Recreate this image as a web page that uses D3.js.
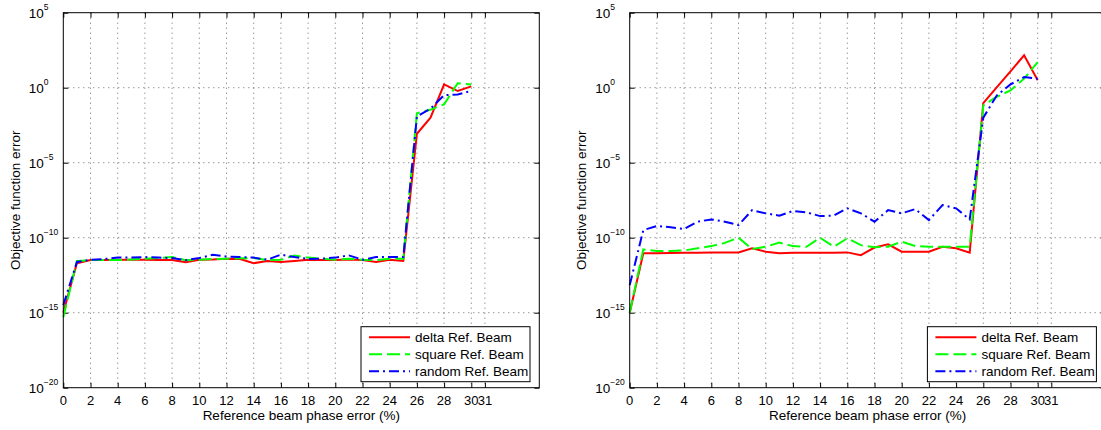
<!DOCTYPE html>
<html>
<head>
<meta charset="utf-8">
<script src="https://cdn.jsdelivr.net/npm/d3@7"></script>
<style>
  body { margin: 0; background: #fff; }
  text { font-family: "Liberation Sans", Arial, Helvetica, sans-serif; fill: #000; }
</style>
</head>
<body>
<div id="chart-area"></div>
<script>
// phase error (%) values on the x axis
var phaseErr = d3.range(0, 31)

var xTicks = [0, 2, 4, 6, 8, 10, 12, 14, 16, 18, 20, 22, 24, 26, 28, 30, 31]
var yTicks = [1e5, 1e0, 1e-5, 1e-10, 1e-15, 1e-20]
var yExp = ["5", "0", "\u22125", "\u221210", "\u221215", "\u221220"]

var seriesNames = ["delta Ref. Beam", "square Ref. Beam", "random Ref. Beam"]

// left plot
var leftDelta = [1.0e-15, 2.0e-12, 3.2e-12, 3.2e-12, 3.4e-12, 3.4e-12, 3.4e-12, 3.2e-12, 3.2e-12, 2.3e-12,
  3.4e-12, 3.5e-12, 4.0e-12, 3.8e-12, 2.0e-12, 2.8e-12, 2.4e-12, 2.8e-12, 3.4e-12, 3.2e-12,
  3.2e-12, 3.5e-12, 3.2e-12, 2.4e-12, 3.4e-12, 2.8e-12, 8.5e-4, 1.0e-2, 1.66, 0.6, 1.23]
var leftSquare = [5.0e-16, 2.8e-12, 3.2e-12, 3.2e-12, 3.2e-12, 3.5e-12, 4.0e-12, 4.5e-12, 5.1e-12, 3.2e-12,
  3.4e-12, 3.8e-12, 4.0e-12, 4.2e-12, 4.4e-12, 3.2e-12, 3.4e-12, 6.6e-12, 4.7e-12, 4.0e-12,
  3.4e-12, 4.0e-12, 3.4e-12, 3.2e-12, 4.0e-12, 4.0e-12, 0.02, 0.034, 0.078, 2.0, 1.66]
var leftRandom = [3.2e-15, 2.4e-12, 3.4e-12, 3.8e-12, 4.7e-12, 4.7e-12, 5.1e-12, 4.7e-12, 4.4e-12, 3.2e-12,
  4.4e-12, 7.4e-12, 5.6e-12, 5.1e-12, 4.7e-12, 3.4e-12, 7.4e-12, 5.1e-12, 3.8e-12, 4.0e-12,
  4.7e-12, 6.6e-12, 3.4e-12, 5.1e-12, 5.1e-12, 5.1e-12, 0.0123, 0.04, 0.32, 0.35, 0.6]

// right plot
var rightDelta = [1.0e-15, 9.1e-12, 9.1e-12, 9.5e-12, 1.0e-11, 1.0e-11, 1.05e-11, 1.05e-11, 1.05e-11, 1.95e-11,
  1.17e-11, 9.1e-12, 1.0e-11, 1.0e-11, 1.0e-11, 1.0e-11, 1.05e-11, 6.9e-12, 2.2e-11, 3.6e-11,
  1.17e-11, 1.17e-11, 1.17e-11, 2.5e-11, 1.95e-11, 1.0e-11, 0.095, 1.1, 12.3, 145, 3.1]
var rightSquare = [1.0e-15, 1.66e-11, 1.29e-11, 1.32e-11, 1.4e-11, 2.0e-11, 2.75e-11, 4.5e-11, 1.0e-10, 1.74e-11,
  2.5e-11, 4.7e-11, 2.75e-11, 2.5e-11, 1.0e-10, 2.5e-11, 9.1e-11, 3.2e-11, 2.3e-11, 2.5e-11,
  5.4e-11, 2.75e-11, 2.5e-11, 2.5e-11, 2.5e-11, 2.5e-11, 0.066, 0.25, 0.66, 4.0, 51]
var rightRandom = [6.9e-14, 3.2e-10, 6.0e-10, 5.0e-10, 3.8e-10, 1.17e-9, 1.66e-9, 1.17e-9, 6.9e-10, 6.9e-9,
  4.2e-9, 2.95e-9, 6.0e-9, 4.9e-9, 2.75e-9, 2.95e-9, 9.1e-9, 4.2e-9, 1.17e-9, 6.9e-9,
  4.2e-9, 8.1e-9, 1.5e-9, 1.5e-8, 9.1e-9, 1.66e-9, 0.01, 0.31, 1.66, 5.1, 4.0]

var colors = ["#ff0000", "#00ff00", "#0000ff"]
var dashes = [null, "13,5", "10,4,2,4"]

var svg = d3.select("#chart-area")
  .append("svg")
  .attr("width", 1101)
  .attr("height", 430)

function drawPanel(left, seriesList) {
  var top = 12.7, width = 476, height = 375
  var bottom = top + height, right = left + width

  var x = d3.scaleLinear().domain([0, 35]).range([left, right])
  var y = d3.scaleLog().domain([1e-20, 1e5]).range([bottom, top])

  var g = svg.append("g")

  // dotted grid
  g.selectAll(".gx").data(xTicks.filter(function(d) { return d > 0 }))
    .enter().append("line")
    .attr("x1", function(d) { return x(d) }).attr("x2", function(d) { return x(d) })
    .attr("y1", top).attr("y2", bottom)
    .attr("stroke", "#444").attr("stroke-width", 0.8).attr("stroke-dasharray", "1,4")
  g.selectAll(".gy").data(yTicks.slice(1, 5))
    .enter().append("line")
    .attr("x1", left).attr("x2", right)
    .attr("y1", function(d) { return y(d) }).attr("y2", function(d) { return y(d) })
    .attr("stroke", "#444").attr("stroke-width", 0.8).attr("stroke-dasharray", "1,4")

  // inward ticks on all four sides
  var axes = [
    [d3.axisBottom(x).tickValues(xTicks), "translate(0," + bottom + ")"],
    [d3.axisTop(x).tickValues(xTicks), "translate(0," + top + ")"],
    [d3.axisLeft(y).tickValues(yTicks), "translate(" + left + ",0)"],
    [d3.axisRight(y).tickValues(yTicks), "translate(" + right + ",0)"]
  ]
  axes.forEach(function(a) {
    var ax = g.append("g").attr("transform", a[1])
      .call(a[0].tickSizeInner(-5).tickSizeOuter(0).tickFormat(""))
    ax.select(".domain").remove()
    ax.selectAll("line").attr("stroke", "#000")
  })

  // series lines
  var line = d3.line()
    .x(function(d, i) { return x(phaseErr[i]) })
    .y(function(d) { return y(d) })
  seriesList.forEach(function(s, k) {
    g.append("path")
      .datum(s)
      .attr("d", line)
      .attr("fill", "none")
      .attr("stroke", colors[k])
      .attr("stroke-width", 2)
      .attr("stroke-dasharray", dashes[k])
  })

  // box
  g.append("rect")
    .attr("x", left).attr("y", top).attr("width", width).attr("height", height)
    .attr("fill", "none").attr("stroke", "#000").attr("stroke-width", 1)

  // x tick labels
  g.selectAll(".xl").data(xTicks)
    .enter().append("text")
    .attr("x", function(d) { return x(d) })
    .attr("y", bottom + 17.5)
    .attr("text-anchor", "middle")
    .attr("font-size", 13)
    .text(function(d) { return d })

  // y tick labels 10^n
  yTicks.forEach(function(t, i) {
    var tx = g.append("text")
      .attr("x", left - 34.5)
      .attr("y", y(t) + 5)
      .attr("font-size", 13.5)
    tx.append("tspan").text("10")
    tx.append("tspan").attr("font-size", 8.5).attr("dy", -7.5).text(yExp[i])
  })

  g.append("text")
    .attr("x", (left + right) / 2)
    .attr("y", 420)
    .attr("text-anchor", "middle")
    .attr("font-size", 13.5)
    .text("Reference beam phase error (%)")

  g.append("text")
    .attr("transform", "translate(" + (left - 43.5) + "," + ((top + bottom) / 2) + ") rotate(-90)")
    .attr("text-anchor", "middle")
    .attr("font-size", 13.5)
    .text("Objective function error")

  // legend
  var lw = 169, lh = 55
  var lx = right - 9.3 - lw, ly = bottom - 6 - lh
  var leg = g.append("g").attr("transform", "translate(" + lx + "," + ly + ")")
  leg.append("rect")
    .attr("width", lw).attr("height", lh)
    .attr("fill", "#fff").attr("stroke", "#000").attr("stroke-width", 1)
  seriesNames.forEach(function(name, k) {
    var ry = 10.6 + k * 17
    leg.append("line")
      .attr("x1", 8).attr("x2", 49).attr("y1", ry).attr("y2", ry)
      .attr("stroke", colors[k]).attr("stroke-width", 2)
      .attr("stroke-dasharray", dashes[k])
    leg.append("text")
      .attr("x", 54).attr("y", ry + 5)
      .attr("font-size", 13.5)
      .text(name)
  })
}

drawPanel(63.3, [leftDelta, leftSquare, leftRandom])
drawPanel(629.7, [rightDelta, rightSquare, rightRandom])
</script>
</body>
</html>
